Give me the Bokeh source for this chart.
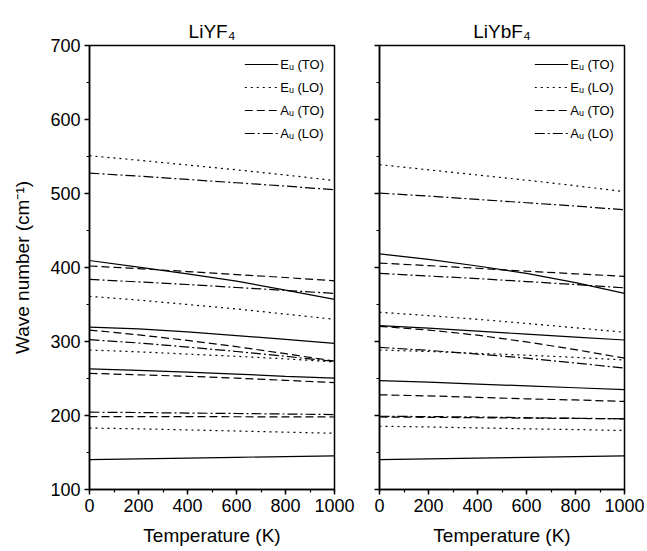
from bokeh.plotting import figure
from bokeh.layouts import row
from bokeh.models import Range1d, SingleIntervalTicker
from bokeh.embed import file_html
from bokeh.resources import INLINE

# ---------------- data ----------------
temperature = [0, 200, 400, 600, 800, 1000]

# LiYF4
liyf4_eu_to = [
    [140.5, 141.5, 142.5, 143.5, 144.5, 145.5],
    [263.0, 261.0, 258.5, 256.0, 253.0, 250.5],
    [319.5, 317.0, 313.0, 308.0, 303.0, 297.5],
    [409.5, 400.5, 391.5, 381.5, 369.5, 357.0],
]
liyf4_eu_lo = [
    [183.0, 182.0, 180.5, 179.0, 177.5, 176.0],
    [288.5, 286.0, 283.0, 280.0, 276.5, 272.5],
    [361.0, 356.0, 350.0, 344.0, 337.0, 330.0],
    [551.0, 545.0, 538.5, 532.0, 525.0, 517.5],
]
liyf4_au_to = [
    [198.5, 198.5, 198.5, 198.3, 198.2, 198.0],
    [257.0, 255.0, 253.0, 250.5, 247.5, 244.5],
    [315.5, 309.0, 301.5, 293.0, 283.5, 273.5],
    [402.0, 398.5, 394.5, 390.5, 386.5, 382.0],
]
liyf4_au_lo = [
    [204.5, 204.0, 203.3, 202.7, 202.0, 201.3],
    [302.5, 298.0, 292.5, 286.5, 280.0, 273.0],
    [384.0, 380.5, 377.0, 373.0, 369.0, 365.0],
    [527.5, 523.5, 519.0, 514.5, 510.0, 505.0],
]

# LiYbF4
liybf4_eu_to = [
    [140.5, 141.5, 142.5, 143.5, 144.5, 145.5],
    [247.0, 245.0, 242.5, 240.0, 237.5, 235.0],
    [321.5, 318.0, 314.0, 310.0, 306.0, 302.0],
    [418.5, 411.0, 402.0, 392.0, 379.5, 365.0],
]
liybf4_eu_lo = [
    [185.5, 184.5, 183.3, 182.0, 181.0, 179.7],
    [288.5, 286.5, 284.0, 281.5, 278.5, 275.0],
    [339.5, 335.0, 330.0, 324.5, 318.5, 312.5],
    [539.0, 532.0, 525.0, 518.0, 510.5, 502.5],
]
liybf4_au_to = [
    [198.0, 197.5, 197.0, 196.5, 196.0, 195.5],
    [228.0, 226.5, 224.5, 222.5, 221.0, 219.0],
    [320.5, 315.5, 308.5, 299.5, 289.0, 277.5],
    [406.0, 402.5, 399.0, 395.0, 391.5, 388.0],
]
liybf4_au_lo = [
    [199.0, 198.5, 198.0, 197.0, 196.3, 195.5],
    [292.0, 288.0, 283.0, 277.5, 271.0, 264.0],
    [392.0, 388.5, 385.0, 381.0, 377.0, 372.5],
    [500.5, 496.5, 492.0, 487.5, 483.0, 478.0],
]

mode_labels = ["E\u1d64 (TO)", "E\u1d64 (LO)", "A\u1d64 (TO)", "A\u1d64 (LO)"]
mode_dashes = ["solid", "2 4", "8 4", "10 3 2 3"]
panel_titles = ["LiYF\u2084", "LiYbF\u2084"]
x_label = "Temperature (K)"
y_label = "Wave number (cm\u207b\u00b9)"
y_ticks = [100, 200, 300, 400, 500, 600, 700]

FONT = "Liberation Sans"


def make_panel(title, series, first, min_left, min_right):
    p = figure(frame_width=245, frame_height=444,
               output_backend="svg", toolbar_location=None,
               x_range=Range1d(0, 1000), y_range=Range1d(100, 700),
               min_border_left=min_left, min_border_right=min_right,
               min_border_top=45, min_border_bottom=62,
               background_fill_color="white", border_fill_color="white")
    p.title.text = title
    p.title.align = "center"
    p.title.text_font = FONT
    p.title.text_font_size = "19px"
    p.title.text_font_style = "normal"
    p.title.text_color = "black"
    p.title.standoff = 8

    p.grid.visible = False
    p.outline_line_color = "black"
    p.outline_line_width = 1.5

    p.xaxis.ticker = SingleIntervalTicker(interval=200, num_minor_ticks=2)
    p.yaxis.ticker = SingleIntervalTicker(interval=100, num_minor_ticks=2)
    for ax in [p.xaxis[0], p.yaxis[0]]:
        ax.axis_line_width = 1.5
        ax.axis_line_color = "black"
        ax.major_tick_line_width = 1.5
        ax.minor_tick_line_width = 1.2
        ax.major_tick_line_color = "black"
        ax.minor_tick_line_color = "black"
        ax.major_tick_in = 0
        ax.major_tick_out = 5
        ax.minor_tick_in = 0
        ax.minor_tick_out = 3
        ax.major_label_text_font = FONT
        ax.major_label_text_font_size = "18px"
        ax.major_label_text_color = "black"
        ax.axis_label_text_font = FONT
        ax.axis_label_text_font_size = "19px"
        ax.axis_label_text_font_style = "normal"
        ax.axis_label_text_color = "black"
    p.xaxis.major_label_standoff = 4
    p.xaxis.axis_label = x_label
    p.xaxis.axis_label_standoff = 10
    if first:
        p.yaxis.axis_label = y_label
        p.yaxis.axis_label_standoff = 14
        p.yaxis.major_label_standoff = 4
    else:
        p.yaxis.major_label_overrides = {t: "" for t in y_ticks}
        p.yaxis.major_label_standoff = 0

    for lines, label, dash in zip(series, mode_labels, mode_dashes):
        p.multi_line(xs=[temperature] * len(lines), ys=lines,
                     line_color="black", line_width=1.2, line_dash=dash,
                     legend_label=label)

    lg = p.legend[0]
    lg.location = "top_right"
    lg.border_line_color = None
    lg.background_fill_alpha = 0
    lg.margin = 10
    lg.padding = 4
    lg.spacing = 5
    lg.glyph_width = 34
    lg.glyph_height = 18
    lg.label_standoff = 2
    lg.label_text_font = FONT
    lg.label_text_font_size = "13px"
    lg.label_text_color = "black"
    return p


p1 = make_panel(panel_titles[0],
                [liyf4_eu_to, liyf4_eu_lo, liyf4_au_to, liyf4_au_lo],
                True, 89, 22)
p2 = make_panel(panel_titles[1],
                [liybf4_eu_to, liybf4_eu_lo, liybf4_au_to, liybf4_au_lo],
                False, 23, 20)

layout = row(p1, p2)
open("out.html", "w").write(file_html(layout, INLINE))
